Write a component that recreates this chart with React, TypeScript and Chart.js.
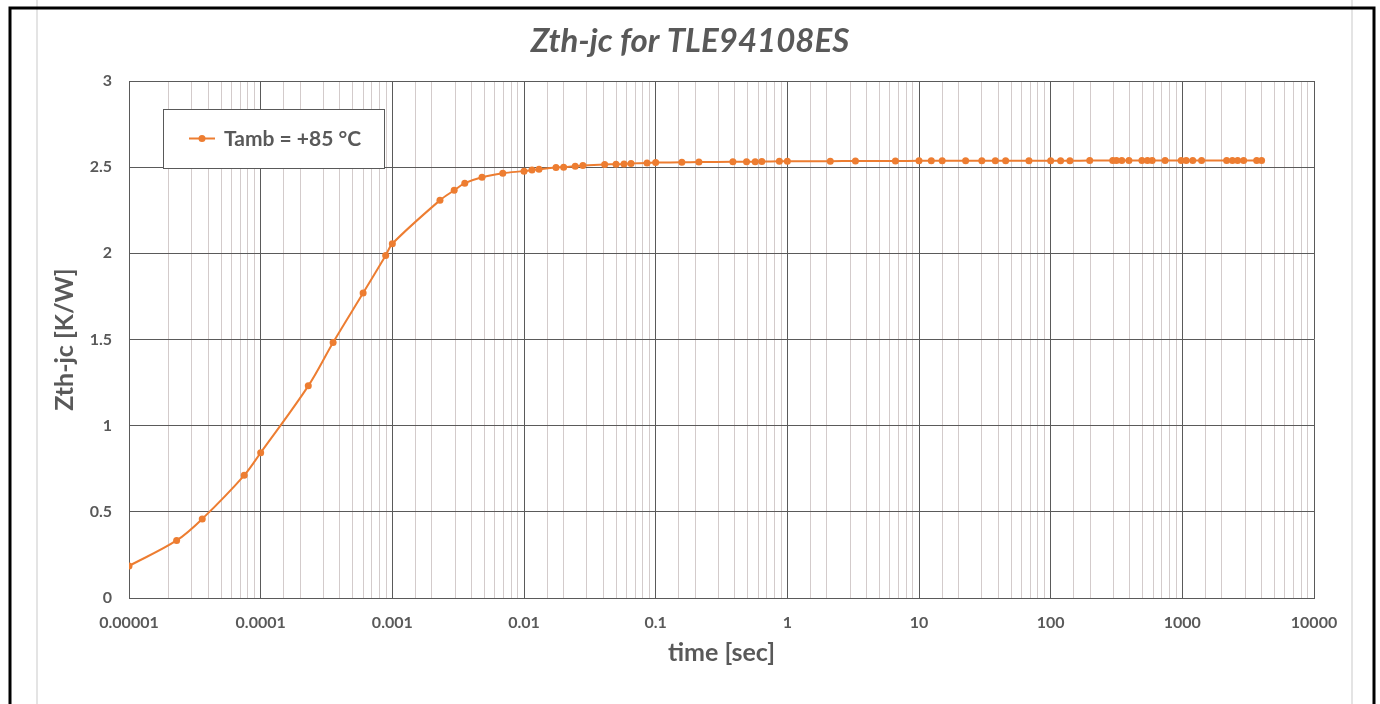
import { useEffect, useRef } from 'react';
import { Chart, registerables } from 'chart.js';

Chart.register(...registerables);

// Thermal impedance junction-to-case vs. pulse time
const chartTitle = 'Zth-jc for TLE94108ES';
const seriesLabel = 'Tamb = +85 °C';
const xAxisTitle = 'time [sec]';
const yAxisTitle = 'Zth-jc [K/W]';

const timeSec = [
  1e-5, 2.3e-5, 3.6e-5, 7.5e-5, 1.0e-4, 2.3e-4, 3.55e-4, 6.0e-4, 8.9e-4, 1.0e-3,
  2.3e-3, 2.95e-3, 3.55e-3, 4.8e-3, 6.9e-3, 1.0e-2, 1.15e-2, 1.3e-2, 1.75e-2, 2.0e-2,
  2.45e-2, 2.8e-2, 4.1e-2, 5.0e-2, 5.75e-2, 6.5e-2, 8.6e-2, 0.1, 0.158, 0.213,
  0.386, 0.49, 0.57, 0.64, 0.87, 1.0, 2.12, 3.29, 6.62, 10,
  12.4, 15, 22.6, 30, 38, 45.5, 68.4, 100, 119, 140,
  198, 296, 316, 347, 393, 493, 543, 590, 740, 980,
  1070, 1200, 1400, 2170, 2400, 2630, 2920, 3670, 4000,
];

const zthJc = [
  0.186, 0.334, 0.459, 0.712, 0.843, 1.231, 1.483, 1.77, 1.988, 2.056,
  2.308, 2.366, 2.407, 2.442, 2.465, 2.477, 2.483, 2.488, 2.498, 2.5,
  2.506, 2.51, 2.516, 2.517, 2.519, 2.522, 2.524, 2.527, 2.528, 2.53,
  2.531, 2.532, 2.532, 2.533, 2.534, 2.535, 2.535, 2.536, 2.536, 2.537,
  2.537, 2.537, 2.537, 2.537, 2.537, 2.537, 2.537, 2.537, 2.537, 2.537,
  2.538, 2.538, 2.538, 2.538, 2.538, 2.538, 2.538, 2.538, 2.538, 2.538,
  2.538, 2.538, 2.538, 2.538, 2.538, 2.538, 2.538, 2.538, 2.538,
];

const xTickLabels = ['0.00001', '0.0001', '0.001', '0.01', '0.1', '1', '10', '100', '1000', '10000'];
const yTickValues = [0, 0.5, 1, 1.5, 2, 2.5, 3];
const yTickLabels = ['0', '0.5', '1', '1.5', '2', '2.5', '3'];

const TEXT = '#595959';
const ORANGE = '#ED7D31';
const MAJOR_GRID = '#5a5a5a';
const MINOR_GRID = '#d3cbcb';
const FONT = 'Lato';

const isDecade = (v: number) => {
  const e = Math.log10(v);
  return Math.abs(e - Math.round(e)) < 1e-6;
};

// Page frame behind the chart: white sheet, faint margin rules, black border
const pageFrame = {
  id: 'pageFrame',
  beforeDraw(chart: Chart) {
    const { ctx, width, height } = chart;
    ctx.save();
    ctx.fillStyle = '#ffffff';
    ctx.fillRect(0, 0, width, height);
    ctx.strokeStyle = '#e4e4e4';
    ctx.lineWidth = 2;
    ctx.beginPath();
    ctx.moveTo(37, 0);
    ctx.lineTo(37, height);
    ctx.moveTo(1352, 0);
    ctx.lineTo(1352, height);
    ctx.stroke();
    ctx.strokeStyle = '#000000';
    ctx.lineWidth = 3;
    ctx.beginPath();
    ctx.moveTo(10, height + 5);
    ctx.lineTo(10, 8);
    ctx.lineTo(1374, 8);
    ctx.lineTo(1374, height + 5);
    ctx.stroke();
    ctx.restore();
  },
};

// Boxed legend sitting inside the plot area, top-left
const insetLegend = {
  id: 'insetLegend',
  afterDraw(chart: Chart) {
    const { ctx, chartArea } = chart;
    const ds = chart.data.datasets[0] as any;
    const x = chartArea.left + 34;
    const y = chartArea.top + 28;
    const w = 221;
    const h = 59;
    const cy = y + h / 2;
    ctx.save();
    ctx.fillStyle = '#ffffff';
    ctx.fillRect(x, y, w, h);
    ctx.strokeStyle = TEXT;
    ctx.lineWidth = 1;
    ctx.strokeRect(x + 0.5, y + 0.5, w, h);
    ctx.strokeStyle = ds.borderColor;
    ctx.lineWidth = 2;
    ctx.beginPath();
    ctx.moveTo(x + 26, cy);
    ctx.lineTo(x + 52, cy);
    ctx.stroke();
    ctx.fillStyle = ds.pointBackgroundColor;
    ctx.beginPath();
    ctx.arc(x + 39, cy, 3.5, 0, Math.PI * 2);
    ctx.fill();
    ctx.fillStyle = TEXT;
    ctx.font = `bold 21px ${FONT}`;
    ctx.textAlign = 'left';
    ctx.textBaseline = 'middle';
    ctx.fillText(ds.label, x + 61, cy + 1);
    ctx.restore();
  },
};

export default function App() {
  const canvasRef = useRef<HTMLCanvasElement | null>(null);

  useEffect(() => {
    document.body.style.margin = '0';
    document.body.style.overflow = 'hidden';
    const canvas = canvasRef.current;
    if (!canvas) return;

    const chart = new Chart(canvas, {
      type: 'line',
      data: {
        datasets: [
          {
            label: seriesLabel,
            data: timeSec.map((t, i) => ({ x: t, y: zthJc[i] })),
            borderColor: ORANGE,
            backgroundColor: ORANGE,
            pointBackgroundColor: ORANGE,
            pointBorderColor: ORANGE,
            borderWidth: 2,
            pointRadius: 3.5,
            pointBorderWidth: 0,
            tension: 0.35,
            fill: false,
          },
        ],
      },
      options: {
        responsive: false,
        animation: false,
        layout: { padding: 0 },
        plugins: {
          legend: { display: false },
          tooltip: { enabled: false },
          title: {
            display: true,
            text: chartTitle,
            color: TEXT,
            font: { family: FONT, size: 33, weight: 'bold', style: 'italic' },
            padding: { top: 22, bottom: 19.4 },
          },
        },
        scales: {
          x: {
            type: 'logarithmic',
            min: 1e-5,
            max: 1e4,
            afterFit: (scale: any) => {
              scale.height = 106;
            },
            border: { display: true, color: MAJOR_GRID, width: 1 },
            grid: {
              drawTicks: false,
              lineWidth: 1,
              color: (ctx: any) => (isDecade(ctx.tick.value) ? MAJOR_GRID : MINOR_GRID),
            },
            ticks: {
              autoSkip: false,
              maxRotation: 0,
              padding: 15,
              color: TEXT,
              font: { family: FONT, size: 16, weight: 'bold' },
              callback: (value: any) => {
                const v = Number(value);
                if (!isDecade(v)) return '';
                return xTickLabels[Math.round(Math.log10(v)) + 5] ?? '';
              },
            },
            title: {
              display: true,
              text: xAxisTitle,
              color: TEXT,
              font: { family: FONT, size: 25, weight: 'bold' },
              padding: { top: 0, bottom: 36 },
            },
          },
          y: {
            type: 'linear',
            min: 0,
            max: 3,
            afterFit: (scale: any) => {
              scale.width = 129;
            },
            border: { display: true, color: MAJOR_GRID, width: 1 },
            grid: { drawTicks: false, color: MAJOR_GRID, lineWidth: 1 },
            ticks: {
              stepSize: 0.5,
              padding: 17,
              color: TEXT,
              font: { family: FONT, size: 16, weight: 'bold' },
              callback: (value: any) => {
                const idx = yTickValues.indexOf(Number(value));
                return idx >= 0 ? yTickLabels[idx] : '';
              },
            },
            title: {
              display: true,
              text: yAxisTitle,
              color: TEXT,
              font: { family: FONT, size: 25, weight: 'bold' },
              padding: { top: 50, bottom: 0 },
            },
          },
          // Empty right-hand axis that only reserves the right margin
          yGap: {
            type: 'linear',
            position: 'right',
            min: 0,
            max: 3,
            afterFit: (scale: any) => {
              scale.width = 66;
            },
            border: { display: false },
            grid: { display: false, drawTicks: false },
            ticks: { display: false },
          },
        },
      },
      plugins: [pageFrame, insetLegend],
    });

    return () => chart.destroy();
  }, []);

  return (
    <div style={{ position: 'relative', width: 1380, height: 704 }}>
      <canvas ref={canvasRef} width={1380} height={704} style={{ display: 'block' }} />
    </div>
  );
}
